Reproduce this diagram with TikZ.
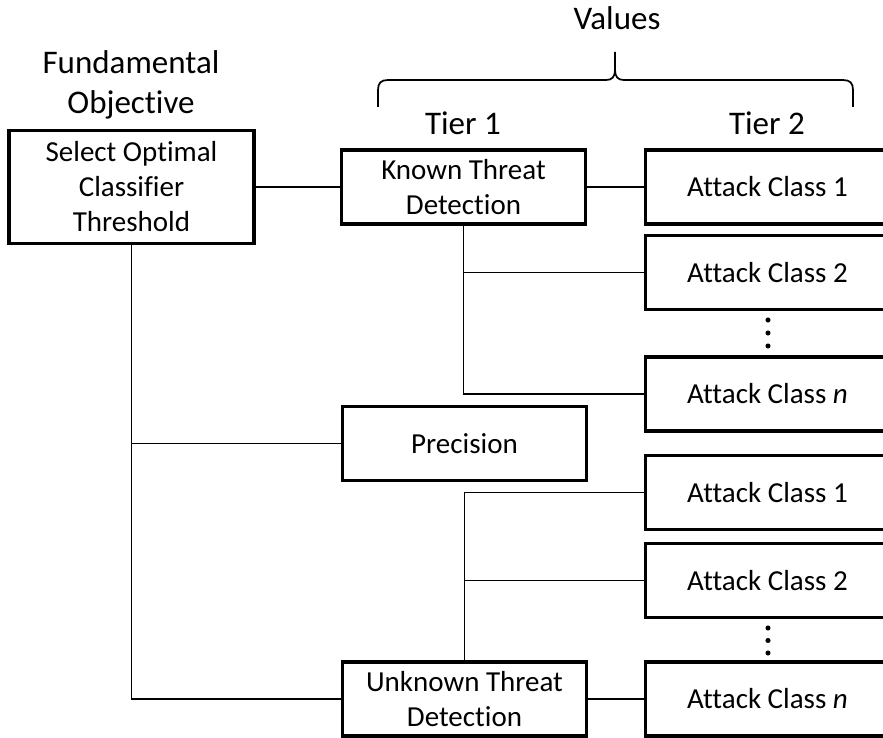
\documentclass[tikz,border=0pt]{standalone}
\usepackage{fontspec}
\setmainfont{Carlito}[Ligatures={NoCommon,NoRare,NoDiscretionary}]
\newcommand\boxfont{\fontsize{21.75}{26.25}\selectfont}
\newcommand\hdrfont{\fontsize{24.75}{30}\selectfont}
\begin{document}
\begin{tikzpicture}[x=0.75pt,y=-0.75pt,
  box/.style={draw,line width=2.4pt,minimum width=183pt,minimum height=55.5pt,inner sep=0pt,align=center,font=\boxfont},
  rootbox/.style={box,minimum width=183.75pt,minimum height=84.75pt},
  conn/.style={line width=1.4pt},
  hdr/.style={font=\hdrfont,align=center,inner sep=0pt},
  dotmark/.style={fill,circle,inner sep=0pt,minimum size=3.8pt}]
\useasboundingbox (0,0) rectangle (883,738);
\clip (0,0) rectangle (883,738);

% headers
\node[hdr] (fo) at (131,85) {Fundamental\\Objective};
\node[hdr] (vals) at (617,18) {Values};
\node[hdr] (t1) at (463,123) {Tier 1};
\node[hdr] (t2) at (767,123) {Tier 2};

% brace
\draw[line width=1.3pt] (378,107) -- (378,90) .. controls (378,83) and (381,80) .. (388,80)
  -- (606,80) .. controls (612,80) and (615,77) .. (615,70) -- (615,52);
\draw[line width=1.3pt] (615,70) .. controls (615,77) and (618,80) .. (624,80)
  -- (843,80) .. controls (850,80) and (853,83) .. (853,90) -- (853,107);

% nodes
\node[rootbox] (root) at (131.5,187) {Select Optimal\\Classifier\\Threshold};
\node[box] (known) at (463.5,187) {Known Threat\\Detection};
\node[box] (prec) at (464.5,443.5) {Precision};
\node[box] (unk) at (464.5,699) {Unknown Threat\\Detection};

\node[box] (a11) at (767.5,187) {Attack Class 1};
\node[box] (a12) at (767.5,272.5) {Attack Class 2};
\node[box] (a1n) at (767.5,394) {Attack Class \textit{n}};
\node[box] (b11) at (767.5,492.5) {Attack Class 1};
\node[box] (b12) at (767.5,580.5) {Attack Class 2};
\node[box] (b1n) at (767.5,699) {Attack Class \textit{n}};

% vertical dots
\node[dotmark] (da1) at (768,320) {};
\node[dotmark] (da2) at (768,333) {};
\node[dotmark] (da3) at (768,346) {};
\node[dotmark] (db1) at (768,628) {};
\node[dotmark] (db2) at (768,640.5) {};
\node[dotmark] (db3) at (768,653) {};

% connectors
\draw[conn] (root.east) -- (known.west);
\draw[conn] (root.south) |- (unk.west);
\draw[conn] (root.south |- prec.west) -- (prec.west);
\draw[conn] (known.east) -- (a11.west);
\draw[conn] (known.south) |- (a1n.west);
\draw[conn] (known.south |- a12.west) -- (a12.west);
\draw[conn] (unk.north) |- (b11.west);
\draw[conn] (unk.north |- b12.west) -- (b12.west);
\draw[conn] (unk.east) -- (b1n.west);
\end{tikzpicture}
\end{document}
